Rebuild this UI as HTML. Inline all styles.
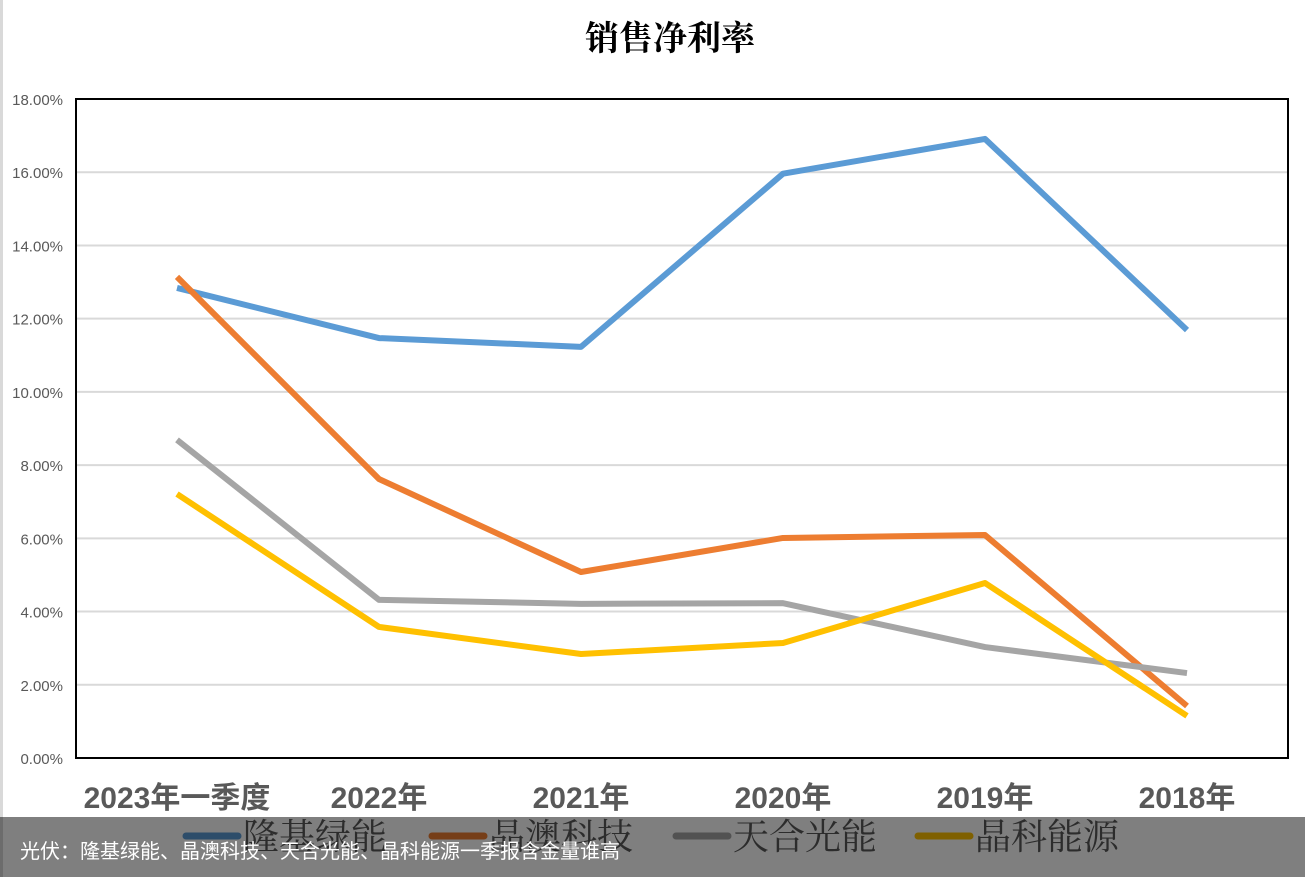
<!DOCTYPE html>
<html><head><meta charset="utf-8"><style>
html,body{margin:0;padding:0;background:#fff;}
body{width:1305px;height:877px;position:relative;overflow:hidden;font-family:"Liberation Sans","Noto Sans CJK SC",sans-serif;}
#overlay{position:absolute;left:0;top:817px;width:1305px;height:60px;background:rgba(0,0,0,0.5);}
#caption{position:absolute;left:20px;top:835px;color:#fff;font-size:20px;font-family:"Liberation Sans","Noto Sans CJK SC",sans-serif;}
</style></head><body>
<svg id="chart" width="1305" height="877" style="position:absolute;left:0;top:0">
<rect x="0" y="0" width="3" height="877" fill="#d9d9d9"/>
<text x="670" y="50" text-anchor="middle" font-size="34" font-weight="bold" font-family="'Noto Serif CJK SC',serif" fill="#000">销售净利率</text>
<g id="grid"></g><g id="yticks"></g><g id="xticks"></g><g id="series"></g><g id="legend"></g>
<rect x="76" y="99" width="1212" height="659" fill="none" stroke="#000" stroke-width="2"/>
</svg>
<div id="overlay"></div>
<div id="caption">光伏：隆基绿能、晶澳科技、天合光能、晶科能源一季报含金量谁高</div>
<script>
const categories=["2023年一季度","2022年","2021年","2020年","2019年","2018年"];
const seriesNames=["隆基绿能","晶澳科技","天合光能","晶科能源"];
const longi=[12.84,11.47,11.23,15.96,16.91,11.69];
const jinko_ja=[13.14,7.62,5.08,6.01,6.09,1.42];
const trina=[8.69,4.32,4.21,4.23,3.03,2.32];
const jinko=[7.21,3.58,2.84,3.14,4.78,1.15];
const yTicks=[0,2,4,6,8,10,12,14,16,18];
const colors=["#5b9bd5","#ed7d31","#a5a5a5","#ffc000"];
const NS="http://www.w3.org/2000/svg";
const x0=76,x1=1288,y0=758,y1=99,yMax=18;
function X(i){return x0+(x1-x0)/categories.length*(i+0.5);}
function Y(v){return y0-(v/yMax)*(y0-y1);}
function mk(t,a,p){const e=document.createElementNS(NS,t);for(const k in a)e.setAttribute(k,a[k]);p.appendChild(e);return e;}
const grid=document.getElementById('grid'),yt=document.getElementById('yticks'),xt=document.getElementById('xticks'),sg=document.getElementById('series'),lg=document.getElementById('legend');
yTicks.forEach(v=>{
  const l=mk('line',{x1:x0,x2:x1,y1:Y(v),y2:Y(v),stroke:'#d9d9d9','stroke-width':2},grid);
  
  
  const t=mk('text',{x:63,y:Y(v)+6,'text-anchor':'end','font-size':15,fill:'#595959'},yt);
  t.textContent=v.toFixed(2)+'%';
  
  
});
categories.forEach((c,i)=>{
  const t=mk('text',{x:X(i),y:808,'text-anchor':'middle','font-size':30,'font-weight':'bold',fill:'#595959'},xt);
  t.textContent=c;
  
  
});
[longi,jinko_ja,trina,jinko].forEach((d,s)=>{
  const p=mk('polyline',{points:d.map((v,i)=>X(i)+','+Y(v)).join(' '),fill:'none',stroke:colors[s],'stroke-width':6,'stroke-linejoin':'round'},sg);
  
  
});
const lx=[186,432,676,918];
seriesNames.forEach((n,s)=>{
  const l=mk('line',{x1:lx[s],x2:lx[s]+52,y1:836,y2:836,stroke:colors[s],'stroke-width':7,'stroke-linecap':'round'},lg);
  
  
  const t=mk('text',{x:lx[s]+57,y:849,'font-size':36,fill:'#595959','font-family':"'Noto Serif CJK SC',serif"},lg);
  t.textContent=n;
  
  
});
</script>
</body></html>
